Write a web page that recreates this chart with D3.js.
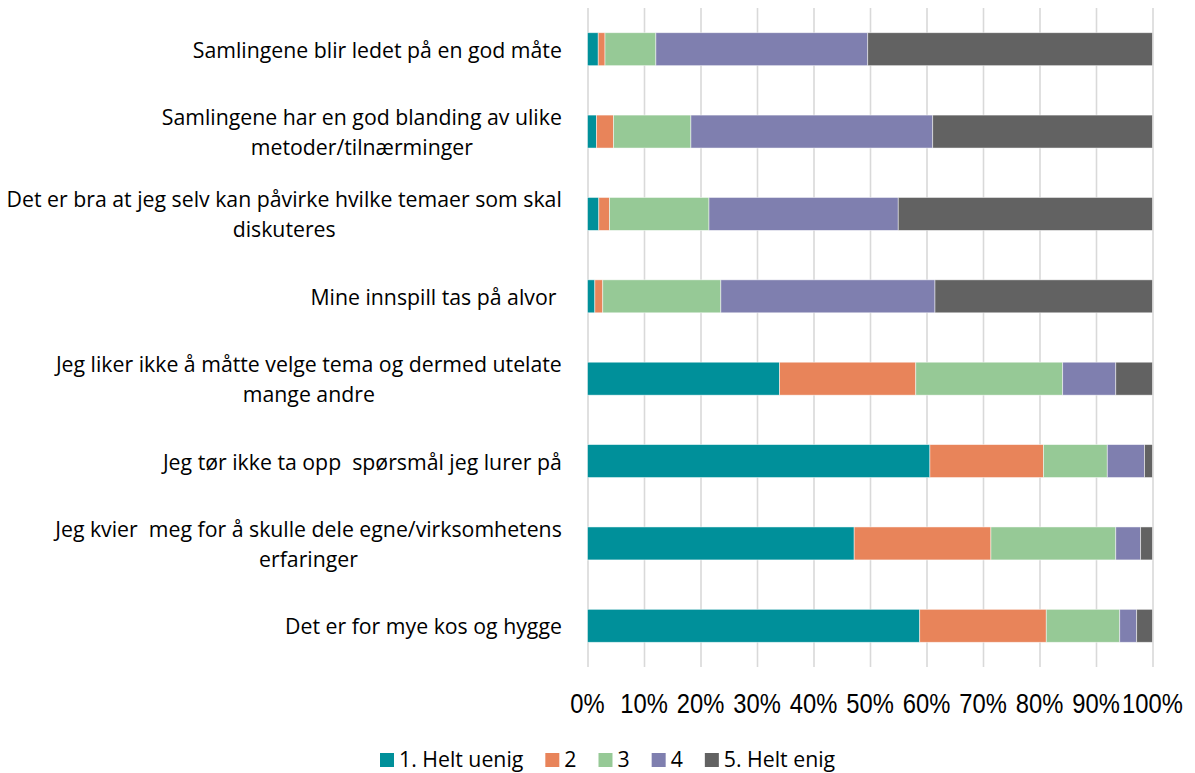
<!DOCTYPE html>
<html>
<head>
<meta charset="utf-8">
<script src="https://cdn.jsdelivr.net/npm/d3@7"></script>
<style>
  body { margin: 0; background: #fff; }
  svg { display: block; }
</style>
</head>
<body>
<svg id="chart"></svg>
<script>
// categories, one line per array entry
const categories = [
  ["Samlingene blir ledet på en god måte"],
  ["Samlingene har en god blanding av ulike", "metoder/tilnærminger"],
  ["Det er bra at jeg selv kan påvirke hvilke temaer som skal", "diskuteres"],
  ["Mine innspill tas på alvor "],
  ["Jeg liker ikke å måtte velge tema og dermed utelate", "mange andre"],
  ["Jeg tør ikke ta opp  spørsmål jeg lurer på"],
  ["Jeg kvier  meg for å skulle dele egne/virksomhetens", "erfaringer"],
  ["Det er for mye kos og hygge"]
];
const seriesNames = ["1. Helt uenig", "2", "3", "4", "5. Helt enig"];
const colors = ["#00909a", "#e8845a", "#96c996", "#7f7faf", "#626262"];

// percent per category (same order as categories)
const helUenig = [1.9, 1.6, 2.0, 1.3, 34.0, 60.6, 47.2, 58.8];
const val2     = [1.2, 3.0, 1.9, 1.4, 24.1, 20.1, 24.2, 22.4];
const val3     = [9.0, 13.7, 17.6, 20.9, 26.0, 11.3, 22.1, 13.0];
const val4     = [37.5, 42.8, 33.5, 37.9, 9.4, 6.6, 4.4, 3.0];
const heltEnig = [50.4, 38.9, 45.0, 38.5, 6.5, 1.4, 2.1, 2.8];
const tickValues = [0, 10, 20, 30, 40, 50, 60, 70, 80, 90, 100];

const width = 1195, height = 773;
const plot = { left: 587.5, right: 1152.5, top: 8, bottom: 667 };
const labelFont = "'Open Sans', sans-serif";
const labelSize = 21.5, labelSX = 0.99;

const svg = d3.select("#chart").attr("width", width).attr("height", height);

const x = d3.scaleLinear().domain([0, 100]).range([plot.left, plot.right]);
const y = d3.scaleBand()
  .domain(d3.range(categories.length))
  .range([plot.top, plot.bottom])
  .paddingInner(0.6)
  .paddingOuter(0.3);

// gridlines
const grid = svg.append("g")
  .attr("transform", `translate(0,${plot.bottom})`)
  .call(d3.axisBottom(x).tickValues(tickValues)
    .tickSize(-(plot.bottom - plot.top)).tickFormat(""));
grid.select(".domain").remove();
grid.selectAll("line").attr("stroke", "#d9d9d9").attr("stroke-width", 1.6);

// stacked data
const rows = categories.map((c, i) => ({
  i: i,
  "1. Helt uenig": helUenig[i], "2": val2[i], "3": val3[i], "4": val4[i], "5. Helt enig": heltEnig[i]
}));
const stacked = d3.stack().keys(seriesNames)(rows);

svg.append("g").selectAll("g")
  .data(stacked)
  .join("g")
  .attr("fill", (d, k) => colors[k])
  .selectAll("rect")
  .data(d => d)
  .join("rect")
  .attr("x", d => x(d[0]))
  .attr("width", d => x(d[1]) - x(d[0]))
  .attr("y", d => y(d.data.i))
  .attr("height", y.bandwidth())
  .attr("stroke", "#ffffff")
  .attr("stroke-opacity", 0.6)
  .attr("stroke-width", 0.8);

// category labels: right aligned block, lines centered inside it
const labelRight = 562;
const lineH = 30;
categories.forEach((lines, i) => {
  const g = svg.append("g");
  const cy = y(i) + y.bandwidth() / 2;
  const texts = lines.map((line, j) => g.append("text")
    .attr("font-family", labelFont)
    .attr("font-size", labelSize)
    .attr("fill", "#000")
    .style("white-space", "pre")
    .attr("text-anchor", "middle")
    .attr("dominant-baseline", "central")
    .text(line));
  const maxW = d3.max(texts, t => t.node().getComputedTextLength()) * labelSX;
  const cx = labelRight - maxW / 2;
  texts.forEach((t, j) => {
    const ly = cy + (j - (lines.length - 1) / 2) * lineH;
    t.attr("transform", `translate(${cx},${ly}) scale(${labelSX},1)`);
  });
});

// tick labels
svg.append("g").selectAll("text")
  .data(tickValues)
  .join("text")
  .attr("transform", d => `translate(${x(d)},713) scale(0.88,1)`)
  .attr("text-anchor", "middle")
  .attr("font-family", "'Liberation Sans', Arial, sans-serif")
  .attr("font-size", 27)
  .attr("fill", "#000")
  .text(d => d + "%");

// legend
const legend = svg.append("g");
let lx = 380;
seriesNames.forEach((name, k) => {
  legend.append("rect")
    .attr("x", lx).attr("y", 753)
    .attr("width", 14).attr("height", 14)
    .attr("fill", colors[k]);
  const t = legend.append("text")
    .attr("font-family", labelFont)
    .attr("font-size", labelSize)
    .attr("fill", "#000")
    .attr("transform", `translate(${lx + 19},767) scale(${labelSX},1)`)
    .text(name);
  lx += 19 + t.node().getComputedTextLength() * labelSX + 22;
});
</script>
</body>
</html>
